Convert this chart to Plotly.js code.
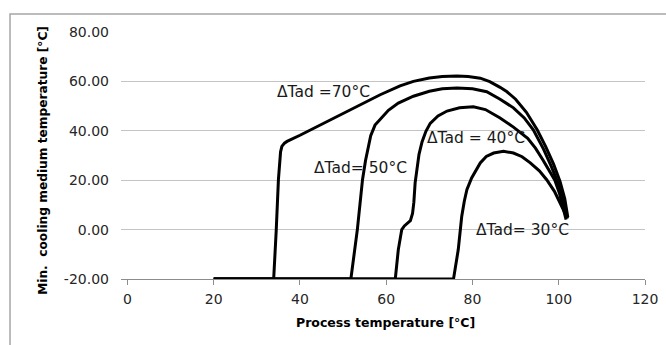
<!DOCTYPE html>
<html>
<head>
<meta charset="utf-8">
<script src="https://cdn.plot.ly/plotly-3.0.1.min.js"></script>
<style>html,body{margin:0;padding:0;background:#fff;}#chart{width:666px;height:345px;}</style>
</head>
<body>
<div id="chart"></div>
<script>
// Series data
var x70 = [20, 33.9, 34.5, 35.0, 35.5, 35.8, 36.4, 37.0, 40, 43, 46.3, 50, 54, 58.6, 63.2, 66.3, 70, 73, 76.4, 79, 81.8, 84, 86.4, 88, 90, 92.5, 95, 97, 98.8, 100.3, 101.4, 102, 102.1];
var y70 = [-20, -20, 0, 20.2, 31.5, 33.7, 35.0, 35.7, 38.2, 40.9, 43.8, 47.1, 50.6, 54.6, 58.2, 60.0, 61.4, 62.0, 62.2, 62.0, 61.3, 59.9, 57.6, 55.8, 52.8, 47.5, 40.4, 33.5, 26.5, 19.5, 12.5, 7.0, 5.0];

var x50 = [20, 51.8, 53.3, 54.5, 55.2, 55.7, 56.4, 57.4, 58.6, 60.5, 62.8, 66.3, 70, 73, 76.4, 80, 83.3, 86.4, 89.5, 92, 94.1, 96.5, 98.3, 99.8, 101, 101.8, 102];
var y50 = [-20, -20, 0, 20.2, 28.0, 32.3, 38.0, 42.3, 44.6, 48.3, 51.2, 54.0, 56.0, 57.0, 57.3, 57.0, 55.8, 52.8, 49.3, 45.2, 40.4, 32.5, 25.5, 19.0, 12.0, 6.5, 4.5];

var x40 = [20, 62.1, 62.8, 63.6, 64.2, 65.0, 65.6, 66.1, 66.4, 66.7, 67.1, 67.6, 68.3, 69.2, 70.2, 72, 74.1, 77, 80.2, 83, 86.4, 89.5, 92.8, 94.6, 96.3, 98, 99.1, 100.2, 101, 101.5, 101.7];
var y40 = [-20, -20, -8.1, 0, 1.5, 2.6, 3.6, 6.5, 11.0, 18.9, 25.0, 30.5, 35.5, 39.8, 43.0, 46.0, 48.0, 49.3, 49.7, 48.6, 45.2, 41.5, 37.0, 33.0, 28.3, 23.5, 20.0, 14.5, 9.5, 6.0, 4.0];

var x30 = [20, 75.6, 76.7, 77.5, 78.1, 78.7, 79.8, 81.8, 83.2, 84.9, 87.2, 89.5, 91.5, 93.4, 95.5, 97.2, 99, 100.3, 101.3, 102.0];
var y30 = [-20, -20, -8.1, 5.3, 11.5, 16.2, 20.9, 27.0, 29.6, 31.0, 31.7, 31.0, 29.5, 27.0, 23.8, 20.2, 15.5, 10.8, 7.2, 4.7];

var seriesNames = ["\u0394Tad =70\u00b0C", "\u0394Tad= 50\u00b0C", "\u0394Tad = 40\u00b0C", "\u0394Tad= 30\u00b0C"];
var labelX = [34.3, 42.7, 69.1, 80.4];
var labelY = [55.7, 25.1, 37.2, 0];

var xTickVals = [0, 20, 40, 60, 80, 100, 120];
var xTickText = ["0", "20", "40", "60", "80", "100", "120"];
var yTickVals = [-20, 0, 20, 40, 60, 80];
var yTickText = ["-20.00", "0.00", "20.00", "40.00", "60.00", "80.00"];

var xTitle = "Process temperature [\u00b0C]";
var yTitle = "Min.  cooling medium temperature [\u00b0C]";

var xs = [x70, x50, x40, x30];
var ys = [y70, y50, y40, y30];
var traces = xs.map(function (xv, i) {
  return {
    x: xv, y: ys[i], type: "scatter", mode: "lines", name: seriesNames[i],
    line: {color: "#000000", width: 3, shape: "linear"},
    hoverinfo: "skip", cliponaxis: false
  };
});

var annotations = seriesNames.map(function (t, i) {
  return {
    x: labelX[i], y: labelY[i], xref: "x", yref: "y", text: t, showarrow: false,
    xanchor: "left", yanchor: "middle",
    font: {family: "DejaVu Sans", size: 15.5, color: "#1a1a1a"}
  };
});
annotations.push({
  x: 0.504, y: -0.178, xref: "paper", yref: "paper", text: xTitle, showarrow: false,
  xanchor: "center", yanchor: "middle",
  font: {family: "DejaVu Sans", size: 12.5, color: "#000000", weight: "bold"}
});
annotations.push({
  x: -0.149, y: 0.482, xref: "paper", yref: "paper", text: yTitle, showarrow: false,
  xanchor: "center", yanchor: "middle", textangle: -90,
  font: {family: "DejaVu Sans", size: 12.2, color: "#000000", weight: "bold"}
});

var layout = {
  width: 666, height: 345,
  margin: {l: 121, r: 21, t: 32, b: 66, pad: 0},
  paper_bgcolor: "#ffffff", plot_bgcolor: "#ffffff",
  showlegend: false,
  xaxis: {
    range: [-1.5, 120], tickvals: xTickVals, ticktext: xTickText,
    showgrid: false, zeroline: false, showline: true, linecolor: "#8c8c8c", linewidth: 1,
    ticks: "outside", ticklen: 5, tickcolor: "#8c8c8c",
    tickfont: {family: "DejaVu Sans", size: 14, color: "#262626"},
    ticklabelstandoff: 2
  },
  yaxis: {
    range: [-20, 80], tickvals: yTickVals, ticktext: yTickText,
    showgrid: true, gridcolor: "#c4c4c4", gridwidth: 1, zeroline: false, showline: false,
    ticks: "", tickfont: {family: "DejaVu Sans", size: 14, color: "#262626"},
    ticklabelstandoff: 11
  },
  annotations: annotations,
  shapes: [{
    type: "rect", xref: "paper", yref: "paper",
    x0: -0.2118, x1: 1.2, y0: -0.6, y1: 1.0729,
    line: {color: "#a6a6a6", width: 1.5}, layer: "below"
  }]
};

Plotly.newPlot("chart", traces, layout, {staticPlot: true, displayModeBar: false});
</script>
</body>
</html>
